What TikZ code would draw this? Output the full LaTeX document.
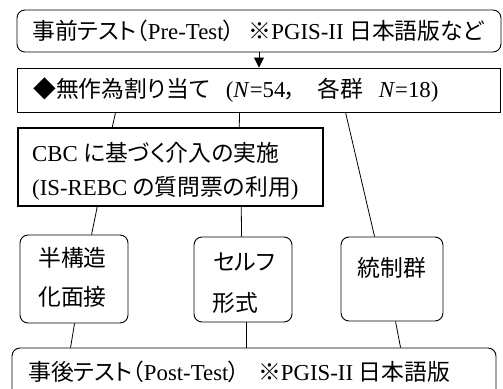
\documentclass[tikz,border=0pt]{standalone}
\usepackage{fontspec}
\setmainfont{Liberation Serif}
\newfontfamily\jp[RawFeature=+palt]{Noto Sans CJK JP}
\usetikzlibrary{arrows.meta}
\begin{document}
\begin{tikzpicture}[x=1pt,y=-1pt,
  box/.style={draw, line width=0.9pt, inner sep=0pt},
  rbox/.style={box, rounded corners=8pt},
  thickbox/.style={draw, line width=1.5pt, inner sep=0pt},
  txt/.style={anchor=west, inner sep=0pt, font=\fontsize{22.8}{27}\selectfont},
  ctxt/.style={txt, anchor=center},
  conn/.style={line width=0.8pt},
]
\useasboundingbox (0,0) rectangle (503,388);
\clip (0,0) rectangle (503,388);
% boxes
\node[rbox, minimum width=484pt, minimum height=42pt] (b1) at (259,31) {};
\node[box, minimum width=483pt, minimum height=44pt] (b2) at (258.5,90) {};
\node[thickbox, minimum width=305pt, minimum height=78pt] (b3) at (170.5,167) {};
\node[rbox, minimum width=108pt, minimum height=88pt] (b4) at (74,279) {};
\node[rbox, minimum width=98pt, minimum height=85pt] (b5) at (243,279.5) {};
\node[rbox, minimum width=102pt, minimum height=84pt] (b6) at (392,279) {};
\node[rbox, minimum width=484pt, minimum height=54pt] (b7) at (254,375) {};
% texts
\node[txt] (t1) at (32,31) {{\jp 事前テスト（}Pre-Test{\jp ）}\hspace{0.6em}{\jp ※}PGIS-II {\jp 日本語版など}};
\node[txt] (t2) at (33,90) {{\jp ◆無作為割り当て}\hspace{0.7em}(\textit{N}=54{\jp ，}\hspace{0.9em}{\jp 各群}\hspace{0.7em}\textit{N}=18)};
\node[txt] (t3a) at (32,153) {CBC {\jp に基づく介入の実施}};
\node[txt] (t3b) at (32,188) {(IS-REBC {\jp の質問票の利用})};
\node[txt] (t4a) at (38,258) {{\jp 半構造}};
\node[txt] (t4b) at (38,297) {{\jp 化面接}};
\node[txt] (t5a) at (213,262) {{\jp セルフ}};
\node[txt] (t5b) at (212,303) {{\jp 形式}};
\node[ctxt] (t6) at (392,268) {{\jp 統制群}};
\node[txt] (t7) at (28,372) {{\jp 事後テスト（}Post-Test{\jp ）}\hspace{0.8em}{\jp ※}PGIS-II {\jp 日本語版}};
% connectors
\draw[conn, -{Triangle[width=10pt,length=10pt]}] (b1.south -| b1.center) ++(0,0) coordinate (a0) -- (a0 |- b2.north);
\draw[conn] ([xshift=99pt]b2.south west) -- ([xshift=95pt]b3.north west);
\draw[conn] ([xshift=223pt]b2.south west) -- ([xshift=222pt]b3.north west);
\draw[conn] ([xshift=329pt]b2.south west) -- ([xshift=34pt]b6.north west);
\draw[conn] ([xshift=80pt]b3.south west) -- ([xshift=72pt]b4.north west);
\draw[conn] ([xshift=224pt]b3.south west) -- ([xshift=48pt]b5.north west);
\draw[conn] ([xshift=55pt]b4.south west) -- ([xshift=59pt]b7.north west);
\draw[conn] ([xshift=53pt]b5.south west) -- ([xshift=235pt]b7.north west);
\draw[conn] ([xshift=55pt]b6.south west) -- ([xshift=389pt]b7.north west);
\end{tikzpicture}
\end{document}
